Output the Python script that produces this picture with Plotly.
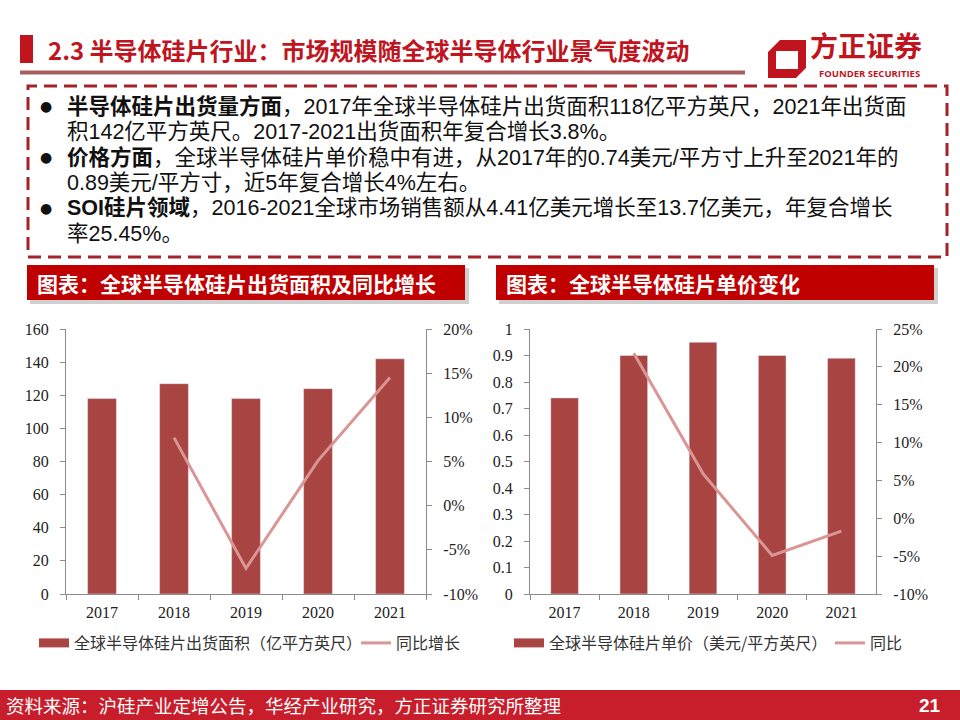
import plotly.graph_objects as go

# 数据：全球半导体硅片出货面积及单价
years = ['2017', '2018', '2019', '2020', '2021']
area = [118, 127, 118, 124, 142]                   # 亿平方英尺
area_yoy = [None, 0.077, -0.071, 0.051, 0.145]     # 同比增长
price = [0.74, 0.90, 0.95, 0.90, 0.89]             # 美元/平方英尺
price_yoy = [None, 0.218, 0.059, -0.049, -0.017]   # 同比

area_ticks = [0, 20, 40, 60, 80, 100, 120, 140, 160]
area_pct_ticks = [-0.10, -0.05, 0, 0.05, 0.10, 0.15, 0.20]
area_pct_text = ['-10%', '-5%', '0%', '5%', '10%', '15%', '20%']
price_ticks = [0, 0.1, 0.2, 0.3, 0.4, 0.5, 0.6, 0.7, 0.8, 0.9, 1]
price_pct_ticks = [-0.10, -0.05, 0, 0.05, 0.10, 0.15, 0.20, 0.25]
price_pct_text = ['-10%', '-5%', '0%', '5%', '10%', '15%', '20%', '25%']

bullet_lines = [
  '<b>半导体硅片出货量方面</b>，2017年全球半导体硅片出货面积118亿平方英尺，2021年出货面',
  '积142亿平方英尺。2017-2021出货面积年复合增长3.8%。',
  '<b>价格方面</b>，全球半导体硅片单价稳中有进，从2017年的0.74美元/平方寸上升至2021年的',
  '0.89美元/平方寸，近5年复合增长4%左右。',
  '<b>SOI硅片领域</b>，2016-2021全球市场销售额从4.41亿美元增长至13.7亿美元，年复合增长',
  '率25.45%。',
]
bullet_marks = [True, False, True, False, True, False]

BAR = '#A84442'
LINE = '#D99694'
RED = '#C0151F'
AXIS = '#8C8C8C'
CJK = 'Noto Sans CJK SC'
MIXED = 'Liberation Sans, Noto Sans CJK SC'
SERIF = 'Liberation Serif'

W, H = 960, 720


def px(x):
  return x / W


def py(y):
  return 1 - y / H


fig = go.Figure()

# Left chart
fig.add_trace(go.Bar(x=years, y=area, name='全球半导体硅片出货面积（亿平方英尺）',
                     marker_color=BAR, xaxis='x', yaxis='y', showlegend=False))
# legend key drawn as a flat block like the original
fig.add_trace(go.Scatter(x=[None], y=[None], name='全球半导体硅片出货面积（亿平方英尺）',
                         mode='lines', line=dict(color=BAR, width=9), xaxis='x', yaxis='y',
                         legend='legend'))
fig.add_trace(go.Scatter(x=years, y=area_yoy, name='同比增长', mode='lines',
                         line=dict(color=LINE, width=3), xaxis='x', yaxis='y2',
                         legend='legend'))

# Right chart
fig.add_trace(go.Bar(x=years, y=price, name='全球半导体硅片单价（美元/平方英尺）',
                     marker_color=BAR, xaxis='x2', yaxis='y3', showlegend=False))
fig.add_trace(go.Scatter(x=[None], y=[None], name='全球半导体硅片单价（美元/平方英尺）',
                         mode='lines', line=dict(color=BAR, width=9), xaxis='x2', yaxis='y3',
                         legend='legend2'))
fig.add_trace(go.Scatter(x=years, y=price_yoy, name='同比', mode='lines',
                         line=dict(color=LINE, width=3), xaxis='x2', yaxis='y4',
                         legend='legend2'))

tickfont = dict(family=SERIF, size=16, color='#222222')
common_axis = dict(showline=True, linecolor=AXIS, linewidth=1.2, ticks='outside',
                   tickcolor=AXIS, ticklen=5, showgrid=False, zeroline=False,
                   tickfont=tickfont, fixedrange=True, automargin=False)

plot_y = [py(594), py(329)]
legend_font = dict(family=CJK, size=16, color='#333333')

fig.update_layout(
  width=W, height=H, autosize=False,
  margin=dict(l=0, r=0, t=0, b=0, pad=0, autoexpand=False),
  paper_bgcolor='white', plot_bgcolor='white',
  bargap=0.6,
  xaxis=dict(domain=[px(66), px(426)], anchor='y', type='category',
             tickson='boundaries', ticklabelstandoff=4, **common_axis),
  yaxis=dict(domain=plot_y, range=[0, 160], tickvals=area_ticks, anchor='x',
             ticklabelstandoff=8, **common_axis),
  yaxis2=dict(range=[-0.10, 0.20], tickvals=area_pct_ticks, ticktext=area_pct_text,
              overlaying='y', side='right', anchor='x', ticklabelstandoff=8,
              **common_axis),
  xaxis2=dict(domain=[px(530), px(876)], anchor='y3', type='category',
              tickson='boundaries', ticklabelstandoff=4, **common_axis),
  yaxis3=dict(domain=plot_y, range=[0, 1], tickvals=price_ticks, anchor='x2',
              ticklabelstandoff=8, **common_axis),
  yaxis4=dict(range=[-0.10, 0.25], tickvals=price_pct_ticks, ticktext=price_pct_text,
              overlaying='y3', side='right', anchor='x2', ticklabelstandoff=8,
              **common_axis),
  legend=dict(orientation='h', x=px(34), y=py(626), xanchor='left', yanchor='top',
              font=legend_font, bgcolor='rgba(0,0,0,0)', itemwidth=30, entrywidth=277),
  legend2=dict(orientation='h', x=px(509), y=py(626), xanchor='left', yanchor='top',
               font=legend_font, bgcolor='rgba(0,0,0,0)', itemwidth=30, entrywidth=276),
  showlegend=True,
)

shapes = []
annotations = []

# Header
shapes.append(dict(type='rect', xref='paper', yref='paper', x0=px(20), x1=px(33),
                   y0=py(63), y1=py(35), fillcolor=RED, line_width=0))
shapes.append(dict(type='rect', xref='paper', yref='paper', x0=px(20), x1=px(745),
                   y0=py(74.5), y1=py(70.5), fillcolor='#A65E5E', line_width=0))
annotations.append(dict(text='<b>2.3 半导体硅片行业：市场规模随全球半导体行业景气度波动</b>',
                        x=px(46), y=py(50), xref='paper', yref='paper',
                        xanchor='left', yanchor='middle', showarrow=False,
                        font=dict(family=CJK, size=24, color=RED)))

# Logo
outer = [(780, 40), (806, 40), (806, 68), (796, 78), (768, 78), (768, 52)]
inner = [(776, 51), (798, 51), (798, 69), (776, 69)]


def poly(points):
  return 'M ' + ' L '.join(f'{px(x):.5f},{py(y):.5f}' for x, y in points) + ' Z'


shapes.append(dict(type='path', xref='paper', yref='paper',
                   path=poly(outer) + ' ' + poly(inner), fillrule='evenodd',
                   fillcolor=RED, line_width=0))
annotations.append(dict(text='<b>方正证券</b>', x=px(808), y=py(48), xref='paper',
                        yref='paper', xanchor='left', yanchor='middle', showarrow=False,
                        font=dict(family=MIXED, size=28, color=RED)))
annotations.append(dict(text='<b>FOUNDER SECURITIES</b>', x=px(869), y=py(74),
                        xref='paper', yref='paper', xanchor='center', yanchor='middle',
                        showarrow=False,
                        font=dict(family='Open Sans', size=9.5, color=RED)))

# Dashed text box
shapes.append(dict(type='rect', xref='paper', yref='paper', x0=px(28), x1=px(947),
                   y0=py(257), y1=py(86), fillcolor='rgba(0,0,0,0)',
                   line=dict(color='#A3232A', width=3, dash='13px,7px')))

line_y = [106, 131.5, 157, 182.5, 208, 233.5]
for text, mark, yy in zip(bullet_lines, bullet_marks, line_y):
  if mark:
    annotations.append(dict(text='●', x=px(46), y=py(yy), xref='paper', yref='paper',
                            xanchor='center', yanchor='middle', showarrow=False,
                            font=dict(family='DejaVu Sans', size=14, color='#111111')))
  annotations.append(dict(text=text, x=px(65), y=py(yy), xref='paper', yref='paper',
                          xanchor='left', yanchor='middle', showarrow=False,
                          font=dict(family=MIXED, size=21.5, color='#111111')))

# Chart title boxes
for x0, x1, title in [(27, 465, '图表：全球半导体硅片出货面积及同比增长'),
                      (496, 934, '图表：全球半导体硅片单价变化')]:
  shapes.append(dict(type='rect', xref='paper', yref='paper', x0=px(x0 + 3), x1=px(x1 + 4),
                     y0=py(304), y1=py(268), fillcolor='rgba(120,120,120,0.35)',
                     line_width=0))
  shapes.append(dict(type='rect', xref='paper', yref='paper', x0=px(x0), x1=px(x1),
                     y0=py(300), y1=py(265), fillcolor='#C00000', line_width=0))
  annotations.append(dict(text=f'<b>{title}</b>', x=px(x0 + 8), y=py(283), xref='paper',
                          yref='paper', xanchor='left', yanchor='middle', showarrow=False,
                          font=dict(family=CJK, size=21, color='white')))

# Footer
shapes.append(dict(type='rect', xref='paper', yref='paper', x0=0, x1=1,
                   y0=0, y1=py(690), fillcolor='#C81D2B', line_width=0))
annotations.append(dict(text='资料来源：沪硅产业定增公告，华经产业研究，方正证券研究所整理',
                        x=px(4), y=py(705), xref='paper', yref='paper',
                        xanchor='left', yanchor='middle', showarrow=False,
                        font=dict(family=CJK, size=18.5, color='white')))
annotations.append(dict(text='<b>21</b>', x=px(943), y=py(705), xref='paper', yref='paper',
                        xanchor='right', yanchor='middle', showarrow=False,
                        font=dict(family=MIXED, size=19, color='white')))

fig.update_layout(shapes=shapes, annotations=annotations)

# page without the default body margin so the figure fills the window
fig.write_html("out.html", config={'displayModeBar': False},
               post_script="document.body.style.margin = '0';")
